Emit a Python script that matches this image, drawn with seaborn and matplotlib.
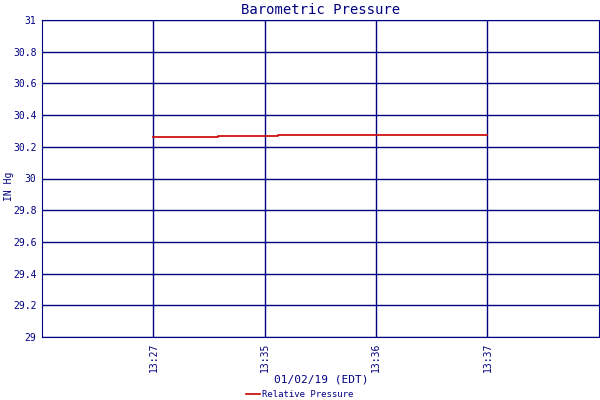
import matplotlib
matplotlib.use("Agg")
import matplotlib.pyplot as plt
import seaborn as sns
import pandas as pd

tick_labels = ["13:27", "13:35", "13:36", "13:37"]
tick_pos = [1, 2, 3, 4]
x_vals = [1.0, 1.58, 2.12, 4.0]
pressure = [30.26, 30.266, 30.272, 30.272]
yticks = [29, 29.2, 29.4, 29.6, 29.8, 30, 30.2, 30.4, 30.6, 30.8, 31]
ylabels = ["29", "29.2", "29.4", "29.6", "29.8", "30", "30.2", "30.4", "30.6", "30.8", "31"]

navy = "#000080"
plt.rcParams["font.family"] = "DejaVu Sans Mono"
fig = plt.figure(figsize=(6, 4), dpi=100)
ax = fig.add_axes([0.07, 0.1575, 0.928, 0.7925])
df = pd.DataFrame({"x": x_vals, "y": pressure})
sns.lineplot(data=df, x="x", y="y", ax=ax, color="#cc0000", lw=1.2,
             drawstyle="steps-post", label="Relative Pressure", legend=False)
ax.set_xlim(0, 5)
ax.set_ylim(29, 31)
ax.set_yticks(yticks)
ax.set_yticklabels(ylabels, fontsize=7, color=navy)
ax.set_xticks(tick_pos)
ax.set_xticklabels(tick_labels, rotation=90, fontsize=7, color=navy)
ax.grid(True, color=navy, lw=1)
ax.set_axisbelow(True)
for s in ax.spines.values():
    s.set_color(navy)
ax.tick_params(length=0, pad=4)
ax.set_xlabel("")
ax.set_ylabel("")
fig.text(0.535, 0.052, "01/02/19 (EDT)", fontsize=8, color=navy, ha="center", va="center")
fig.text(0.015, 0.535, "IN Hg", fontsize=7, color=navy, rotation=90, ha="center", va="center")
ax.set_title("Barometric Pressure", fontsize=10, color=navy, pad=4)
leg = fig.legend(loc="center", bbox_to_anchor=(0.5, 0.013), frameon=False,
                 fontsize=6.5, handlelength=1.5, handletextpad=0.3, borderpad=0)
for t in leg.get_texts():
    t.set_color(navy)
fig.savefig("out.png", dpi=100)
